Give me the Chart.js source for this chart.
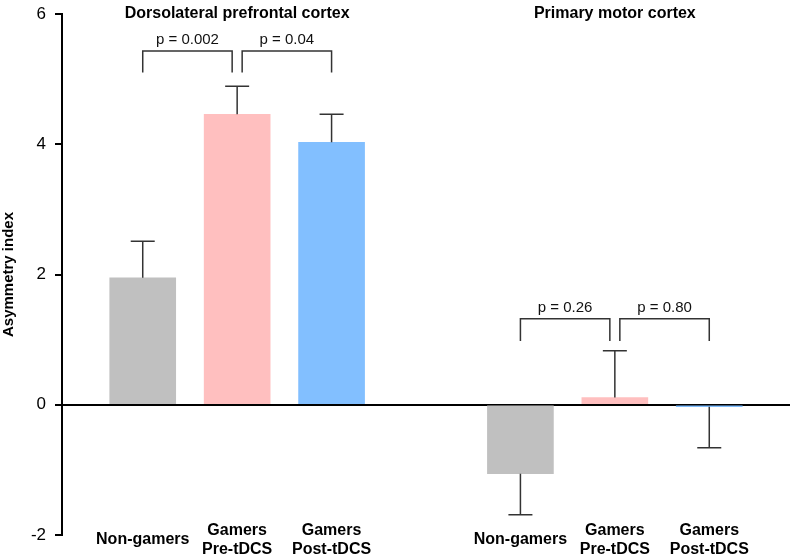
<!DOCTYPE html>
<html>
<head>
<meta charset="utf-8">
<script src="https://cdn.jsdelivr.net/npm/chart.js@4.4.0/dist/chart.umd.min.js"></script>
<style>
  html, body { margin: 0; padding: 0; background: #fff; }
  #wrap { width: 792px; height: 556px; }
</style>
</head>
<body>
<div id="wrap"><canvas id="chart"></canvas></div>
<script>
// bar positions on the x axis (slot 3 left empty between the two regions)
const positions = [0, 1, 2, 4, 5, 6];
const categories = [
  ["Non-gamers"], ["Gamers", "Pre-tDCS"], ["Gamers", "Post-tDCS"],
  ["Non-gamers"], ["Gamers", "Pre-tDCS"], ["Gamers", "Post-tDCS"],
];
const means = [1.95, 4.46, 4.03, -1.06, 0.11, -0.03];
const errors = [0.56, 0.43, 0.43, 0.63, 0.72, 0.63];
const barColors = ["#c0c0c0", "#ffbfbf", "#82bfff", "#c0c0c0", "#ffbfbf", "#82bfff"];

const groupTitles = ["Dorsolateral prefrontal cortex", "Primary motor cortex"];
const groupCenters = [1, 5];

// brackets join bar indices
const bracketFrom = [0, 1, 3, 4];
const bracketTo = [1, 2, 4, 5];
const bracketText = ["p = 0.002", "p = 0.04", "p = 0.26", "p = 0.80"];
const bracketLow = [5.10, 5.10, 0.98, 0.98];
const bracketHigh = [5.43, 5.43, 1.32, 1.32];

const yTicks = [-2, 0, 2, 4, 6];

const FONT = "'Liberation Sans', Arial, sans-serif";

const annotations = {
  id: "annotations",
  afterDatasetsDraw(chart) {
    const { ctx, scales: { x, y } } = chart;
    ctx.save();
    ctx.strokeStyle = "#333";
    ctx.lineWidth = 1.5;

    // one-sided error bars
    means.forEach((m, i) => {
      const px = x.getPixelForValue(positions[i]);
      const end = m >= 0 ? m + errors[i] : m - errors[i];
      const y0 = y.getPixelForValue(m);
      const y1 = y.getPixelForValue(end);
      ctx.beginPath();
      ctx.moveTo(px, y0);
      ctx.lineTo(px, y1);
      ctx.moveTo(px - 12, y1);
      ctx.lineTo(px + 12, y1);
      ctx.stroke();
    });

    // significance brackets
    ctx.fillStyle = "#111";
    ctx.font = "15px " + FONT;
    ctx.textAlign = "center";
    ctx.textBaseline = "middle";
    bracketText.forEach((t, i) => {
      let xa = x.getPixelForValue(positions[bracketFrom[i]]);
      let xb = x.getPixelForValue(positions[bracketTo[i]]);
      if (i % 2 === 0) xb -= 5; else xa += 5;
      const yl = y.getPixelForValue(bracketLow[i]);
      const yh = y.getPixelForValue(bracketHigh[i]);
      ctx.beginPath();
      ctx.moveTo(xa, yl);
      ctx.lineTo(xa, yh);
      ctx.lineTo(xb, yh);
      ctx.lineTo(xb, yl);
      ctx.stroke();
      ctx.fillText(t, (xa + xb) / 2, yh - 11);
    });

    // region titles
    ctx.font = "bold 16px " + FONT;
    ctx.fillStyle = "#000";
    groupTitles.forEach((t, i) => {
      ctx.fillText(t, x.getPixelForValue(groupCenters[i]), y.getPixelForValue(6));
    });

    // category labels under the bars, single lines centred on the pair
    categories.forEach((lines, i) => {
      const px = x.getPixelForValue(positions[i]);
      const mid = chart.chartArea.bottom + 5;
      lines.forEach((ln, k) => {
        const off = (k - (lines.length - 1) / 2) * 19;
        ctx.fillText(ln, px, mid + off);
      });
    });
    ctx.restore();
  },
};

new Chart(document.getElementById("chart"), {
  type: "bar",
  data: {
    datasets: [{
      data: positions.map((p, i) => ({ x: p, y: means[i] })),
      backgroundColor: barColors,
      borderWidth: 0,
      barThickness: 66,
    }],
  },
  options: {
    responsive: true,
    maintainAspectRatio: false,
    animation: false,
    layout: { padding: { top: 14, right: 2, left: 0, bottom: 0 } },
    plugins: {
      legend: { display: false },
      tooltip: { enabled: false },
    },
    scales: {
      x: {
        type: "linear",
        offset: false,
        min: -0.855,
        max: 6.855,
        afterBuildTicks: (axis) => { axis.ticks = positions.map((v) => ({ value: v })); },
        afterFit: (axis) => { axis.height = 21; },
        grid: { display: false },
        border: { display: false },
        ticks: { display: false },
      },
      y: {
        min: -2,
        max: 6,
        afterBuildTicks: (axis) => { axis.ticks = yTicks.map((v) => ({ value: v })); },
        afterFit: (axis) => {
          axis.width = 62;
          axis.paddingTop = 0;
          axis.paddingBottom = 0;
        },
        border: { display: true, color: "#000", width: 2 },
        grid: {
          drawOnChartArea: true,
          color: (c) => (c.tick && c.tick.value === 0 ? "#000" : "rgba(0,0,0,0)"),
          lineWidth: 2,
          tickColor: "#000",
          tickLength: 7,
          tickWidth: 2,
        },
        ticks: {
          color: "#000",
          padding: 9,
          font: { family: FONT, size: 17 },
        },
        title: {
          display: true,
          text: "Asymmetry index",
          color: "#000",
          padding: 0,
          font: { family: FONT, size: 15, weight: "bold" },
        },
      },
    },
  },
  plugins: [annotations],
});
</script>
</body>
</html>
